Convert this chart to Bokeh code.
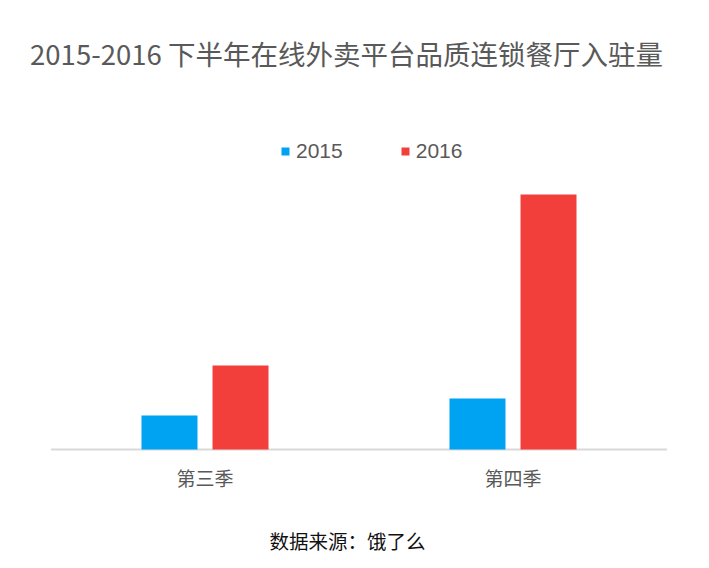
from bokeh.plotting import figure
from bokeh.models import ColumnDataSource, FactorRange, Legend, LegendItem, Range1d
from bokeh.transform import dodge
from bokeh.core.properties import value
from bokeh.embed import file_html
from bokeh.resources import INLINE

title_text = "2015-2016 下半年在线外卖平台品质连锁餐厅入驻量"
source_text = "数据来源：饿了么"
quarters = ["第三季", "第四季"]
series_names = ["2015", "2016"]
values_2015 = [34, 51]
values_2016 = [84, 255]
colors = ["#00A2F2", "#F23F3B"]

FONT = "Noto Sans CJK SC"
GREY = "#595959"

src = ColumnDataSource(dict(q=quarters, v2015=values_2015, v2016=values_2016))

p = figure(width=709, height=568,
           x_range=FactorRange(factors=quarters, range_padding=0.138, range_padding_units="absolute"),
           y_range=Range1d(-119, 449),
           output_backend="svg", toolbar_location=None,
           x_axis_location=None, y_axis_location=None,
           min_border=0, min_border_left=8)
p.outline_line_color = None
p.xgrid.grid_line_color = None
p.ygrid.grid_line_color = None

# baseline
p.segment(x0=[0], y0=[0], x1=[2], y1=[0], line_color="#d9d9d9", line_width=2)

r1 = p.vbar(x=dodge('q', -0.1153, range=p.x_range), top='v2015', width=0.1818,
            source=src, fill_color=colors[0], line_color=None)
r2 = p.vbar(x=dodge('q', 0.1153, range=p.x_range), top='v2016', width=0.1818,
            source=src, fill_color=colors[1], line_color=None)

# title
p.text(x=[0.9594], y=[397], text=[title_text], text_font=value(FONT),
       text_font_size="27.5px", text_color=GREY, text_align="center", text_baseline="middle")
# category labels
p.text(x='q', y=-28, text='q', source=src, text_font=value(FONT),
       text_font_size="19px", text_color=GREY, text_align="center", text_baseline="middle")
# source
p.text(x=[0.9627], y=[-91], text=[source_text], text_font=value(FONT),
       text_font_size="19.5px", text_color="#111111", text_align="center", text_baseline="middle")

legend = Legend(items=[LegendItem(label=series_names[0], renderers=[r1]),
                       LegendItem(label=series_names[1], renderers=[r2])],
                orientation="horizontal", location=(272, 405),
                glyph_width=10, glyph_height=10, label_standoff=6, spacing=57,
                padding=0, margin=0, border_line_color=None, background_fill_alpha=0,
                label_text_font="Liberation Sans", label_text_font_size="21px",
                label_text_color=GREY)
p.add_layout(legend)

open("out.html", "w").write(file_html(p, INLINE))
